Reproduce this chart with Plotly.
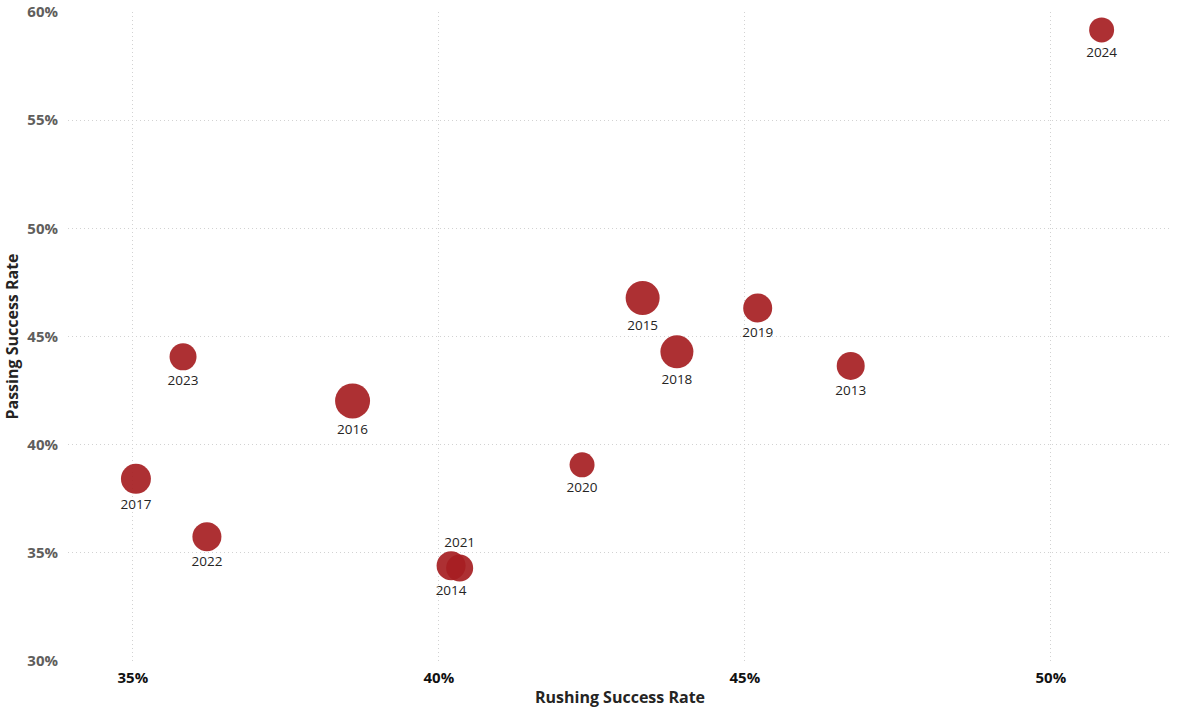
import plotly.graph_objects as go

seasons = ["2013", "2014", "2015", "2016", "2017", "2018", "2019", "2020", "2021", "2022", "2023", "2024"]
rushing_sr = [46.73, 40.20, 43.33, 38.59, 35.05, 43.89, 45.21, 42.34, 40.34, 36.21, 35.82, 50.83]
passing_sr = [43.64, 34.40, 46.78, 42.02, 38.42, 44.29, 46.32, 39.07, 34.30, 35.74, 44.06, 59.17]
bubble_weight = [28, 29, 34, 35, 30, 33, 29, 25, 27, 29, 27, 25]
label_pos = ["bottom center"] * 8 + ["top center"] + ["bottom center"] * 3

x_ticks = [35, 40, 45, 50]
y_ticks = [30, 35, 40, 45, 50, 55, 60]

fig = go.Figure()
fig.add_trace(go.Scatter(
    x=rushing_sr,
    y=passing_sr,
    mode="markers+text",
    text=seasons,
    textposition=label_pos,
    textfont=dict(family="Open Sans, Noto Sans, sans-serif", size=13.5, color="#252423"),
    marker=dict(size=bubble_weight, sizemode="diameter", sizeref=1,
                color="#A61E22", opacity=0.92, line=dict(width=0)),
    cliponaxis=False,
    showlegend=False,
))

fig.update_layout(
    width=1188, height=708,
    margin=dict(l=68, r=16, t=12, b=47),
    plot_bgcolor="white", paper_bgcolor="white",
    font=dict(family="Open Sans, Noto Sans, sans-serif"),
)
fig.update_xaxes(
    range=[33.94, 51.98], automargin=False,
    tickvals=x_ticks, ticktext=[f"{v}%" for v in x_ticks],
    tickfont=dict(size=15, color="#111111", family="Open Sans, sans-serif", weight="bold"),
    showgrid=True, gridcolor="#D2D2D2", griddash="1px,3px", gridwidth=1,
    zeroline=False, showline=False, ticks="", ticklabelstandoff=6,
    title=dict(text="Rushing Success Rate", standoff=10,
               font=dict(size=16, color="#252423", family="Open Sans, sans-serif", weight="bold")),
)
fig.update_yaxes(
    range=[30, 60], automargin=False,
    tickvals=y_ticks, ticktext=[f"{v}%" for v in y_ticks],
    tickfont=dict(size=15, color="#605E5C", family="Open Sans, sans-serif", weight="bold"),
    showgrid=True, gridcolor="#D2D2D2", griddash="1px,3px", gridwidth=1,
    zeroline=False, showline=False, ticks="", ticklabelstandoff=9,
    title=dict(text="Passing Success Rate", standoff=4,
               font=dict(size=16, color="#252423", family="Open Sans, sans-serif", weight="bold")),
)

fig.write_html(
    "out.html",
    config={"displayModeBar": False},
    post_script="document.body.style.margin='0';document.body.style.overflow='hidden';",
)
